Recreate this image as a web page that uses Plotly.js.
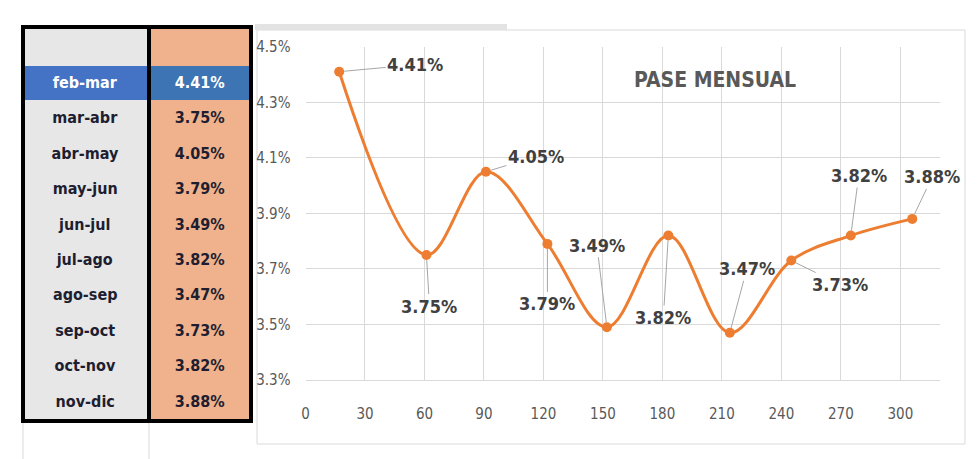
<!DOCTYPE html>
<html>
<head>
<meta charset="utf-8">
<script src="https://cdn.plot.ly/plotly-3.0.1.min.js"></script>
<style>html,body{margin:0;padding:0;background:#fff;}#chart{width:980px;height:459px;}</style>
</head>
<body>
<div id="chart"></div>
<script>
// ---- data ----
const periods = ["feb-mar","mar-abr","abr-may","may-jun","jun-jul","jul-ago","ago-sep","sep-oct","oct-nov","nov-dic"];
const pase = [4.41, 3.75, 4.05, 3.79, 3.49, 3.82, 3.47, 3.73, 3.82, 3.88];
const days = [17, 61, 91, 122, 152, 183, 214, 245, 275, 306];
const chartTitle = "PASE MENSUAL";
const yTicks = [3.3, 3.5, 3.7, 3.9, 4.1, 4.3, 4.5];
const xTicks = [0, 30, 60, 90, 120, 150, 180, 210, 240, 270, 300];

// ---- styling ----
const W = 980, H = 459;
const px = x => x / W;
const py = y => 1 - y / H;
const FONT = "'Liberation Sans Narrow', 'DejaVu Sans Condensed', 'Arial Narrow', sans-serif";
const ORANGE = "#ED7D31";
const LABEL = "#404040";
const b = s => "<b>" + s + "</b>";

// label offsets (pixels) relative to each point
const offsets = [[76,-7],[3,51],[50,-15],[0,60],[-10,-82],[-5,82],[17,-64],[49,24],[8,-60],[20,-42]];

const col1Fill = periods.map((p,i) => i === 0 ? "#4472C4" : "#E7E7E7");
const col2Fill = periods.map((p,i) => i === 0 ? "#3C74B4" : "#F0B28C");
const col1Font = periods.map((p,i) => i === 0 ? "#FFFFFF" : "#1E1E30");

const table = {
  type: "table",
  domain: {x: [px(22), px(251)], y: [py(421), py(27)]},
  columnwidth: [127, 103],
  header: {
    values: ["", ""],
    height: 38,
    fill: {color: ["#E7E7E7", "#F0B28C"]},
    line: {color: ["#E7E7E7", "#F0B28C"], width: 1}
  },
  cells: {
    values: [periods.map(b), pase.map(v => b(v.toFixed(2) + "%"))],
    height: 35.4,
    align: "center",
    fill: {color: [col1Fill, col2Fill]},
    line: {color: [col1Fill, col2Fill], width: 1},
    font: {family: FONT, size: 16, color: [col1Font, col1Font]}
  }
};

const line = {
  type: "scatter",
  mode: "lines+markers",
  x: days, y: pase,
  line: {color: ORANGE, width: 3, shape: "spline", smoothing: 1},
  marker: {color: ORANGE, size: 10},
  hoverinfo: "skip"
};

const annotations = pase.map((v,i) => ({
  x: days[i], y: v, xref: "x", yref: "y",
  text: b(v.toFixed(2) + "%"),
  showarrow: true, arrowhead: 0, arrowwidth: 1, arrowcolor: "#A6A6A6",
  ax: offsets[i][0], ay: offsets[i][1], standoff: 5,
  font: {family: FONT, size: 18, color: LABEL}
}));
annotations.push({
  xref: "paper", yref: "paper", x: px(715), y: py(80), xanchor: "center", yanchor: "middle",
  text: b(chartTitle), showarrow: false,
  font: {family: FONT, size: 21, color: "#595959"}
});

const shapes = [
  // chart area border
  {type: "rect", xref: "paper", yref: "paper", x0: px(257), x1: px(965), y0: py(444), y1: py(30),
   line: {color: "#D9D9D9", width: 1}, layer: "below"},
  {type: "rect", xref: "paper", yref: "paper", x0: px(255), x1: px(507), y0: py(30), y1: py(24),
   fillcolor: "#E3E3E3", line: {width: 0}, layer: "below"},
  // faint sheet gridlines below table
  {type: "line", xref: "paper", yref: "paper", x0: px(23), x1: px(23), y0: py(459), y1: py(421), line: {color: "#D9D9D9", width: 1}},
  {type: "line", xref: "paper", yref: "paper", x0: px(149), x1: px(149), y0: py(459), y1: py(421), line: {color: "#D9D9D9", width: 1}},
  // thick table borders
  {type: "rect", xref: "paper", yref: "paper", x0: px(23), x1: px(149), y0: py(421), y1: py(27), line: {color: "#000", width: 4}},
  {type: "rect", xref: "paper", yref: "paper", x0: px(149), x1: px(251), y0: py(421), y1: py(27), line: {color: "#000", width: 4}}
];

const layout = {
  width: W, height: H,
  margin: {l: 0, r: 0, t: 0, b: 0},
  paper_bgcolor: "#FFFFFF", plot_bgcolor: "#FFFFFF",
  showlegend: false,
  xaxis: {
    domain: [px(305.5), px(940)], range: [0, 320],
    tickvals: xTicks, ticks: "", showgrid: true, gridcolor: "#D9D9D9", gridwidth: 1,
    zeroline: false, showline: true, linecolor: "#D9D9D9",
    ticklabelstandoff: 20,
    tickfont: {family: FONT, size: 15, color: "#595959"}
  },
  yaxis: {
    domain: [py(380), py(46.7)], range: [3.3, 4.5],
    tickvals: yTicks, ticktext: yTicks.map(v => v.toFixed(1) + "%"),
    ticks: "", showgrid: true, gridcolor: "#D9D9D9", gridwidth: 1,
    zeroline: false, showline: false,
    ticklabelstandoff: 14,
    tickfont: {family: FONT, size: 15, color: "#595959"}
  },
  annotations: annotations,
  shapes: shapes
};

Plotly.newPlot("chart", [table, line], layout, {displayModeBar: false, staticPlot: true});
</script>
</body>
</html>
